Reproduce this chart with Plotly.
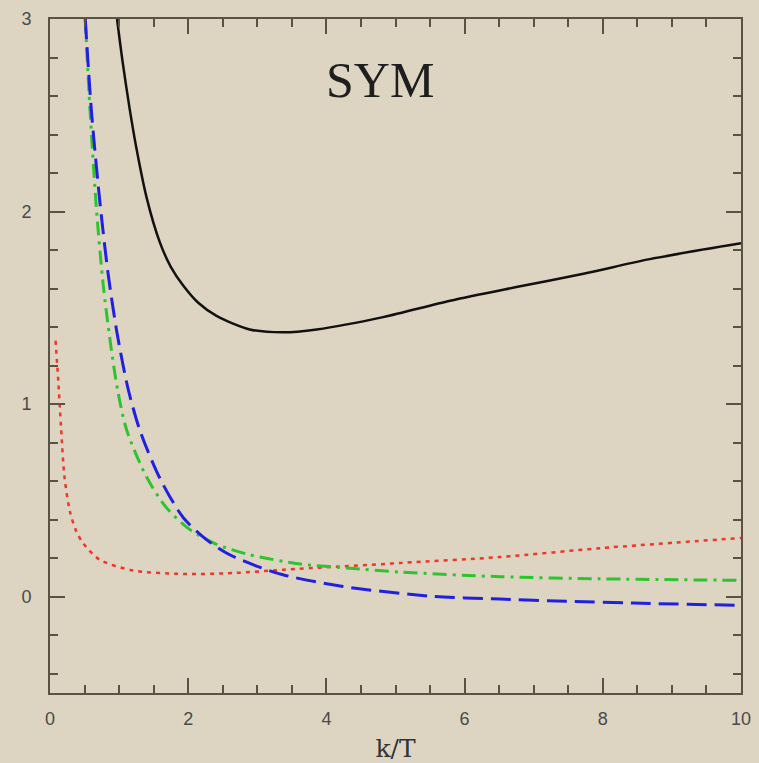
import plotly.graph_objects as go

# --- data ---
black_x = [0.97, 1.05, 1.15, 1.25, 1.40, 1.59, 1.75, 1.93, 2.15, 2.41, 2.89, 3.37, 3.86, 4.82, 5.79, 6.75, 7.72, 8.68, 10.0]
black_y = [3.0, 2.78, 2.54, 2.33, 2.07, 1.84, 1.712, 1.615, 1.525, 1.458, 1.388, 1.373, 1.388, 1.452, 1.537, 1.608, 1.677, 1.753, 1.835]

blue_x = [0.51, 0.60, 0.72, 0.84, 0.97, 1.13, 1.30, 1.59, 1.93, 2.27, 2.60, 3.00, 3.37, 4.24, 5.54, 6.51, 7.48, 8.44, 10.0]
blue_y = [3.0, 2.52, 2.057, 1.68, 1.37, 1.08, 0.865, 0.615, 0.41, 0.295, 0.218, 0.158, 0.114, 0.053, 0.002, -0.012, -0.024, -0.033, -0.045]

green_x = [0.51, 0.58, 0.675, 0.77, 0.87, 0.98, 1.11, 1.40, 1.69, 2.03, 2.41, 2.89, 3.62, 4.34, 5.07, 6.51, 7.96, 10.0]
green_y = [3.0, 2.52, 2.0, 1.62, 1.33, 1.07, 0.865, 0.62, 0.46, 0.347, 0.272, 0.218, 0.17, 0.148, 0.128, 0.104, 0.093, 0.085]

red_x = [0.08, 0.12, 0.16, 0.21, 0.29, 0.38, 0.48, 0.72, 1.21, 1.93, 2.65, 3.38, 5.07, 6.51, 7.96, 10.0]
red_y = [1.33, 1.12, 0.88, 0.62, 0.44, 0.34, 0.278, 0.192, 0.136, 0.118, 0.123, 0.14, 0.175, 0.206, 0.252, 0.305]

x_ticks = [0, 2, 4, 6, 8, 10]
y_ticks = [0, 1, 2, 3]

BG = "#ddd5c2"
AX = "#5a5343"

fig = go.Figure()
fig.add_trace(go.Scatter(x=red_x, y=red_y, mode="lines", line=dict(color="#f0352a", width=2.5, dash="4px,5px", shape="spline", smoothing=0.8)))
fig.add_trace(go.Scatter(x=green_x, y=green_y, mode="lines", line=dict(color="#2ec42e", width=3, dash="14px,6px,3px,6px", shape="spline", smoothing=0.8)))
fig.add_trace(go.Scatter(x=blue_x, y=blue_y, mode="lines", line=dict(color="#2020e0", width=3, dash="20px,8px", shape="spline", smoothing=0.8)))
fig.add_trace(go.Scatter(x=black_x, y=black_y, mode="lines", line=dict(color="#111111", width=2.5, shape="spline", smoothing=0.8)))

axis_common = dict(
    showgrid=False, zeroline=False, showline=True, linecolor=AX, linewidth=2,
    mirror="allticks", ticks="inside", ticklen=15, tickwidth=1.5, tickcolor=AX,
    tickfont=dict(family="Liberation Sans", size=18, color="#4a4a4a"),
    automargin=False,
)

fig.update_layout(
    width=759, height=763,
    margin=dict(l=50, r=18, t=19, b=70),
    paper_bgcolor=BG, plot_bgcolor=BG,
    showlegend=False,
    xaxis=dict(range=[0, 10], tickvals=x_ticks, ticktext=[str(v) for v in x_ticks],
               minor=dict(dtick=0.5, tick0=0, ticks="inside", ticklen=8, tickwidth=1.5, tickcolor=AX),
               title=dict(text="k/T", font=dict(family="DejaVu Serif", size=25, color="#333333"), standoff=14),
               ticklabelstandoff=8, **axis_common),
    yaxis=dict(range=[-0.5, 3], tickvals=y_ticks, ticktext=[str(v) for v in y_ticks],
               minor=dict(dtick=0.2, tick0=0, ticks="inside", ticklen=8, tickwidth=1.5, tickcolor=AX),
               ticklabelstandoff=13, **axis_common),
    annotations=[dict(text="SYM", x=0.4776, y=0.9095, xref="paper", yref="paper",
                      xanchor="center", yanchor="middle", showarrow=False,
                      font=dict(family="Liberation Serif", size=50, color="#1e1e1e"))],
)

fig.write_html("out.html")
